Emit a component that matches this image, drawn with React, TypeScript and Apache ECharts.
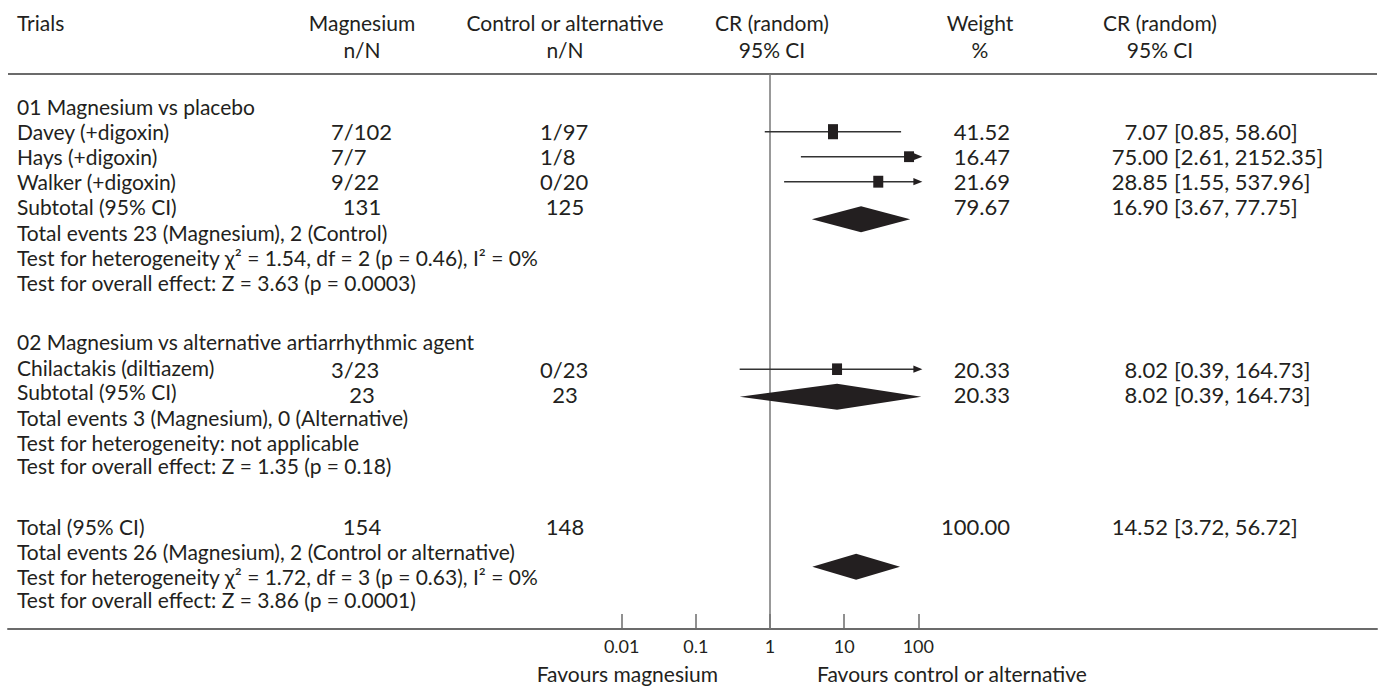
import { useEffect, useRef } from "react";
import * as echarts from "echarts";

// ---------- data ----------
const groupTitles = ["01 Magnesium vs placebo", "02 Magnesium vs alternative artiarrhythmic agent"];
const studyNames = ["Davey (+digoxin)", "Hays (+digoxin)", "Walker (+digoxin)", "Chilactakis (diltiazem)"];
const studyMagnesium = ["7/102", "7/7", "9/22", "3/23"];
const studyControl = ["1/97", "1/8", "0/20", "0/23"];
const studyWeight = [41.52, 16.47, 21.69, 20.33];
const studyCR = [7.07, 75.0, 28.85, 8.02];
const studyLow = [0.85, 2.61, 1.55, 0.39];
const studyHigh = [58.6, 2152.35, 537.96, 164.73];

const pooledNames = ["Subtotal (95% CI)", "Subtotal (95% CI)", "Total (95% CI)"];
const pooledMagnesiumN = [131, 23, 154];
const pooledControlN = [125, 23, 148];
const pooledWeight = [79.67, 20.33, 100.0];
const pooledCR = [16.9, 8.02, 14.52];
const pooledLow = [3.67, 0.39, 3.72];
const pooledHigh = [77.75, 164.73, 56.72];

const infoLines = [
  "Total events 23 (Magnesium), 2 (Control)",
  "Test for heterogeneity χ² = 1.54, df = 2 (p = 0.46), I² = 0%",
  "Test for overall effect: Z = 3.63 (p = 0.0003)",
  "Total events 3 (Magnesium), 0 (Alternative)",
  "Test for heterogeneity: not applicable",
  "Test for overall effect: Z = 1.35 (p = 0.18)",
  "Total events 26 (Magnesium), 2 (Control or alternative)",
  "Test for heterogeneity χ² = 1.72, df = 3 (p = 0.63), I² = 0%",
  "Test for overall effect: Z = 3.86 (p = 0.0001)",
];

const tickValues = [0.01, 0.1, 1, 10, 100];
const tickLabels = ["0.01", "0.1", "1", "10", "100"];
const favourLeft = "Favours magnesium";
const favourRight = "Favours control or alternative";

// ---------- layout (row positions, in row units) ----------
const GROUP_TITLE_ROWS = [0, 9.4];
const STUDY_LABEL_ROWS = [1, 2, 3, 10.45];
const STUDY_ROWS = [1, 2, 3, 10.5];
const POOLED_LABEL_ROWS = [4, 11.4, 16.8];
const POOLED_TEXT_ROWS = [4, 11.5, 16.8];
const POOLED_DIAMOND_ROWS = [4.5, 11.6, 18.4];
const INFO_ROWS = [5.05, 6.05, 7.05, 12.45, 13.43, 14.36, 17.8, 18.8, 19.73];

const W = 1381;
const H = 687;
const GRID_LEFT = 8;
const GRID_RIGHT_X = 1377;
const GRID_TOP = 74;
const AXIS_Y = 629;
const ROW_H = 25;
const ROW0_Y = 106.7;
const NULL_X = 770;
const DECADE_PX = 74.15;
const X_MIN = Math.pow(10, (GRID_LEFT - NULL_X) / DECADE_PX);
const X_MAX = Math.pow(10, (GRID_RIGHT_X - NULL_X) / DECADE_PX);
const Y_MIN = (GRID_TOP - ROW0_Y) / ROW_H;
const Y_MAX = (AXIS_Y - ROW0_Y) / ROW_H;
const CLIP_LO = 0.009;
const CLIP_HI = 110;

const INK = "#231f20";
const GREY = "#6b6b6b";
const FONT = "Lato, 'Open Sans', sans-serif";

function txt(x: number, y: number, text: string, align = "left", size = 21): any {
  return {
    type: "text",
    x,
    y,
    silent: true,
    style: {
      text,
      fill: INK,
      fontSize: size,
      fontFamily: FONT,
      lineHeight: size,
      align,
      textAlign: align,
      verticalAlign: "middle",
      textVerticalAlign: "middle",
    },
  };
}

export default function App() {
  const ref = useRef<HTMLDivElement>(null);

  useEffect(() => {
    if (!ref.current) return;
    const chart = echarts.init(ref.current, null, { renderer: "svg" });

    const studyData = studyCR.map((v, i) => [v, studyLow[i], studyHigh[i], STUDY_ROWS[i], studyWeight[i]]);
    const pooledData = pooledCR.map((v, i) => [v, pooledLow[i], pooledHigh[i], POOLED_DIAMOND_ROWS[i]]);

    const option: any = {
      animation: false,
      backgroundColor: "#ffffff",
      grid: { left: GRID_LEFT, right: W - GRID_RIGHT_X, top: GRID_TOP, bottom: H - AXIS_Y, containLabel: false },
      xAxis: {
        type: "log",
        logBase: 10,
        min: X_MIN,
        max: X_MAX,
        axisLine: { show: true, onZero: false, lineStyle: { color: GREY, width: 2 } },
        axisTick: { show: true, inside: true, length: 15, customValues: tickValues, lineStyle: { color: GREY, width: 1.5 } },
        axisLabel: {
          show: true,
          customValues: tickValues,
          margin: 8,
          fontSize: 18,
          fontFamily: FONT,
          color: INK,
          formatter: (v: number) => {
            const i = tickValues.findIndex((t) => Math.abs(Math.log10(t) - Math.log10(v)) < 1e-6);
            return i >= 0 ? tickLabels[i] : "";
          },
        },
        splitLine: { show: false },
        minorTick: { show: false },
        minorSplitLine: { show: false },
      },
      yAxis: { type: "value", inverse: true, min: Y_MIN, max: Y_MAX, show: false, axisLine: { onZero: false } },
      series: [
        {
          type: "custom",
          name: "null line",
          z: 1,
          silent: true,
          clip: false,
          data: [[1, 0]],
          encode: { x: 0, y: 1 },
          renderItem: (params: any, api: any) => {
            const p = api.coord([api.value(0), 0]);
            const cs = params.coordSys;
            return {
              type: "line",
              shape: { x1: p[0], y1: cs.y, x2: p[0], y2: cs.y + cs.height },
              style: { stroke: "#777777", lineWidth: 1.5 },
            };
          },
        },
        {
          type: "custom",
          name: "studies",
          z: 3,
          silent: true,
          clip: false,
          data: studyData,
          encode: { x: 0, y: 3 },
          renderItem: (_params: any, api: any) => {
            const est = api.value(0);
            const lo = api.value(1);
            const hi = api.value(2);
            const row = api.value(3);
            const w = api.value(4);
            const pLo = api.coord([Math.max(lo, CLIP_LO), row]);
            const pHi = api.coord([Math.min(hi, CLIP_HI), row]);
            const pE = api.coord([est, row]);
            const arrow = hi > CLIP_HI;
            const children: any[] = [
              {
                type: "line",
                shape: { x1: pLo[0], y1: pLo[1], x2: arrow ? pHi[0] - 6 : pHi[0], y2: pHi[1] },
                style: { stroke: "#333333", lineWidth: 1.4 },
              },
            ];
            if (arrow) {
              children.push({
                type: "polygon",
                shape: { points: [[pHi[0] + 1, pHi[1]], [pHi[0] - 8, pHi[1] - 3.6], [pHi[0] - 8, pHi[1] + 3.6]] },
                style: { fill: INK },
              });
            }
            const h = 3.5 + 1.8 * Math.sqrt(w);
            children.push({
              type: "rect",
              shape: { x: pE[0] - 5, y: pE[1] - h / 2, width: 10, height: h },
              style: { fill: INK },
            });
            return { type: "group", children };
          },
        },
        {
          type: "custom",
          name: "pooled",
          z: 4,
          silent: true,
          clip: false,
          data: pooledData,
          encode: { x: 0, y: 3 },
          renderItem: (_params: any, api: any) => {
            const est = api.value(0);
            const lo = api.value(1);
            const hi = api.value(2);
            const row = api.value(3);
            const pL = api.coord([Math.max(lo, CLIP_LO), row]);
            const pR = api.coord([Math.min(hi, CLIP_HI), row]);
            const pC = api.coord([est, row]);
            const half = 13;
            return {
              type: "polygon",
              shape: {
                points: [
                  [pL[0], pC[1]],
                  [pC[0], pC[1] - half],
                  [pR[0], pC[1]],
                  [pC[0], pC[1] + half],
                ],
              },
              style: { fill: INK },
            };
          },
        },
      ],
    };
    chart.setOption(option);

    const py = (r: number) => (chart.convertToPixel({ gridIndex: 0 } as any, [1, r]) as number[])[1];

    const LABEL_X = 17;
    const MAG_LEFT = 331;
    const MAG_CENTER = 362;
    const CTRL_LEFT = 540;
    const CTRL_CENTER = 565;
    const WEIGHT_RIGHT = 1010;
    const CR_RIGHT = 1168;
    const CI_LEFT = 1174;
    const NUM = 22;

    const els: any[] = [];
    // header
    const hy1 = 22;
    const hy2 = 49;
    els.push(txt(LABEL_X, hy1, "Trials"));
    els.push(txt(MAG_CENTER, hy1, "Magnesium", "center"));
    els.push(txt(MAG_CENTER, hy2, "n/N", "center"));
    els.push(txt(CTRL_CENTER, hy1, "Control or alternative", "center"));
    els.push(txt(CTRL_CENTER, hy2, "n/N", "center"));
    els.push(txt(772, hy1, "CR (random)", "center"));
    els.push(txt(772, hy2, "95% CI", "center"));
    els.push(txt(980, hy1, "Weight", "center"));
    els.push(txt(980, hy2, "%", "center"));
    els.push(txt(1160, hy1, "CR (random)", "center"));
    els.push(txt(1160, hy2, "95% CI", "center"));
    els.push({
      type: "line",
      silent: true,
      shape: { x1: GRID_LEFT, y1: GRID_TOP, x2: GRID_RIGHT_X, y2: GRID_TOP },
      style: { stroke: GREY, lineWidth: 2 },
    });

    groupTitles.forEach((t, i) => els.push(txt(LABEL_X, py(GROUP_TITLE_ROWS[i]), t)));
    studyNames.forEach((name, i) => {
      const y = py(STUDY_ROWS[i]);
      els.push(txt(LABEL_X, py(STUDY_LABEL_ROWS[i]), name));
      els.push(txt(MAG_LEFT, y, studyMagnesium[i], "left", NUM));
      els.push(txt(CTRL_LEFT, y, studyControl[i], "left", NUM));
      els.push(txt(WEIGHT_RIGHT, y, studyWeight[i].toFixed(2), "right", NUM));
      els.push(txt(CR_RIGHT, y, studyCR[i].toFixed(2), "right", NUM));
      els.push(txt(CI_LEFT, y, `[${studyLow[i].toFixed(2)}, ${studyHigh[i].toFixed(2)}]`, "left", NUM));
    });
    pooledNames.forEach((name, i) => {
      const y = py(POOLED_TEXT_ROWS[i]);
      els.push(txt(LABEL_X, py(POOLED_LABEL_ROWS[i]), name));
      els.push(txt(MAG_CENTER, y, String(pooledMagnesiumN[i]), "center", NUM));
      els.push(txt(CTRL_CENTER, y, String(pooledControlN[i]), "center", NUM));
      els.push(txt(WEIGHT_RIGHT, y, pooledWeight[i].toFixed(2), "right", NUM));
      els.push(txt(CR_RIGHT, y, pooledCR[i].toFixed(2), "right", NUM));
      els.push(txt(CI_LEFT, y, `[${pooledLow[i].toFixed(2)}, ${pooledHigh[i].toFixed(2)}]`, "left", NUM));
    });
    infoLines.forEach((t, i) => els.push(txt(LABEL_X, py(INFO_ROWS[i]), t)));

    els.push(txt(718, 673, favourLeft, "right"));
    els.push(txt(817, 673, favourRight, "left"));

    chart.setOption({ graphic: { elements: els } });

    return () => chart.dispose();
  }, []);

  return (
    <div
      ref={ref}
      style={{ position: "fixed", left: 0, top: 0, width: W, height: H, background: "#fff" }}
    />
  );
}
